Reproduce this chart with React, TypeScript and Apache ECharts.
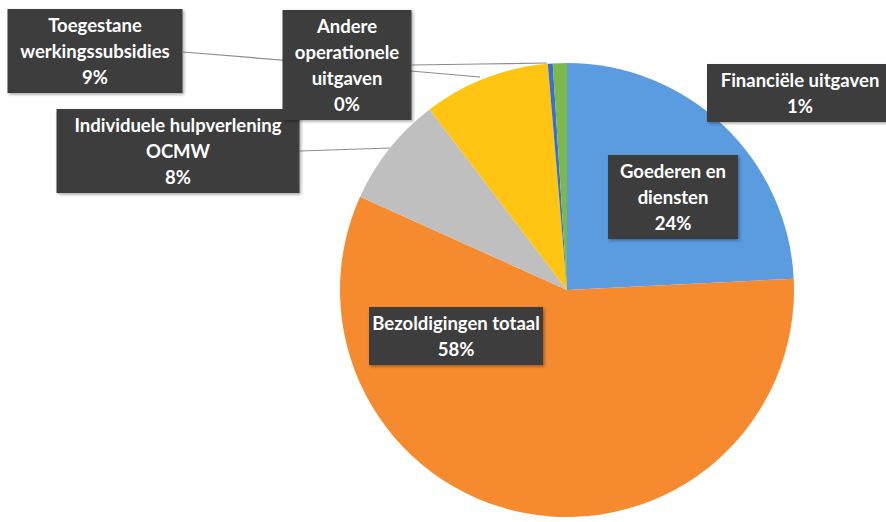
import React, { useEffect, useRef } from "react";
import * as echarts from "echarts";

const categories = [
  "Goederen en diensten",
  "Bezoldigingen totaal",
  "Individuele hulpverlening OCMW",
  "Toegestane werkingssubsidies",
  "Andere operationele uitgaven",
  "Financiële uitgaven",
];
const labelLines = [
  "Goederen en\ndiensten",
  "Bezoldigingen totaal",
  "Individuele hulpverlening\nOCMW",
  "Toegestane\nwerkingssubsidies",
  "Andere\noperationele\nuitgaven",
  "Financiële uitgaven",
];
const values = [24.2, 57.5, 7.9, 9.0, 0.35, 1.0];
const colors = ["#5B9BE0", "#F58A2E", "#BFBFBF", "#FFC512", "#3A6FD0", "#7CB84A"];

// label layout (box centres, widths, leader lines)
const labelPos: [number, number][] = [
  [673, 197],
  [456, 336],
  [178, 151],
  [95, 51],
  [347, 65],
  [800, 93],
];
const labelWidths = [130, 174, 243, 175, 129, 186];
const leaderLines: ([number, number][] | null)[] = [
  null,
  null,
  [[390, 148], [345, 149.5], [300, 151]],
  [[480, 77], [330, 64], [183, 52]],
  [[547, 63], [480, 64], [412, 65]],
  null,
];

export default function App() {
  const ref = useRef<HTMLDivElement>(null);
  useEffect(() => {
    if (!ref.current) return;
    const chart = echarts.init(ref.current, null, { renderer: "svg" });
    chart.setOption({
      animation: false,
      backgroundColor: "#ffffff",
      series: [
        {
          type: "pie",
          center: [567, 290],
          radius: 227,
          startAngle: 90,
          clockwise: true,
          percentPrecision: 0,
          avoidLabelOverlap: false,
          data: categories.map((c, i) => ({
            name: c,
            value: values[i],
            itemStyle: { color: colors[i] },
            label: { width: labelWidths[i] },
            labelLine: { show: leaderLines[i] != null },
          })),
          label: {
            show: true,
            position: "outside",
            formatter: (p: any) => `${labelLines[p.dataIndex]}\n${p.percent}%`,
            color: "#ffffff",
            fontFamily: "Lato",
            fontWeight: "bold",
            fontSize: 18.5,
            lineHeight: 26,
            align: "center",
            overflow: "none",
            backgroundColor: "#3d3d3d",
            padding: [3, 0, 3, 0],
            shadowColor: "rgba(0,0,0,0.35)",
            shadowBlur: 3,
            shadowOffsetX: 1.5,
            shadowOffsetY: 1.5,
          },
          labelLine: {
            show: true,
            lineStyle: { color: "#8c8c8c", width: 1.2 },
          },
          labelLayout: (params: any) => {
            const i = params.dataIndex;
            const res: any = {
              x: labelPos[i][0],
              y: labelPos[i][1],
              align: "center",
              verticalAlign: "middle",
            };
            if (leaderLines[i]) res.labelLinePoints = leaderLines[i];
            return res;
          },
          emphasis: { disabled: true },
        },
      ],
    });
    return () => chart.dispose();
  }, []);
  return (
    <div
      ref={ref}
      style={{ position: "fixed", left: 0, top: 0, width: 886, height: 522 }}
    />
  );
}
